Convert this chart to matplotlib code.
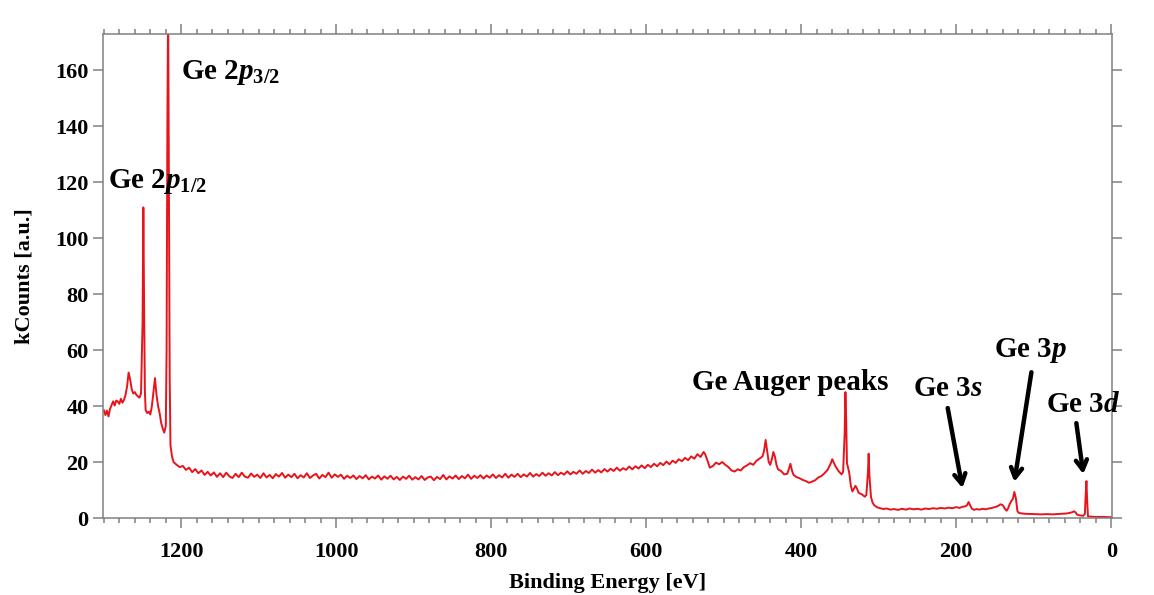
import matplotlib
matplotlib.use("Agg")
import matplotlib.pyplot as plt
from matplotlib.ticker import MultipleLocator

# XPS survey spectrum of Ge
binding_energy = [
    1300, 1298, 1296, 1294, 1292, 1290, 1288, 1286, 1284, 1282, 1280, 1278, 1276, 1274,
    1272, 1270, 1268, 1266, 1264, 1262, 1260, 1258, 1256, 1254, 1252, 1250, 1249, 1248,
    1247, 1246, 1244, 1242, 1240, 1238, 1236, 1234, 1232, 1230, 1228, 1226, 1224, 1222,
    1220, 1219, 1218, 1217, 1216, 1215, 1214, 1212, 1210, 1206, 1202, 1198, 1194, 1190,
    1186, 1182, 1178, 1174, 1170, 1166, 1162, 1158, 1154, 1150, 1146, 1142, 1138, 1134,
    1130, 1126, 1122, 1118, 1114, 1110, 1106, 1102, 1098, 1094, 1090, 1086, 1082, 1078,
    1074, 1070, 1066, 1062, 1058, 1054, 1050, 1046, 1042, 1038, 1034, 1030, 1026, 1022,
    1018, 1014, 1010, 1006, 1002, 998, 994, 990, 986, 982, 978, 974, 970, 966,
    962, 958, 954, 950, 946, 942, 938, 934, 930, 926, 922, 918, 914, 910,
    906, 902, 898, 894, 890, 886, 882, 878, 874, 870, 866, 862, 858, 854,
    850, 846, 842, 838, 834, 830, 826, 822, 818, 814, 810, 806, 802, 798,
    794, 790, 786, 782, 778, 774, 770, 766, 762, 758, 754, 750, 746, 742,
    738, 734, 730, 726, 722, 718, 714, 710, 706, 702, 698, 694, 690, 686,
    682, 678, 674, 670, 666, 662, 658, 654, 650, 646, 642, 638, 634, 630,
    626, 622, 618, 614, 610, 606, 602, 598, 594, 590, 586, 582, 578, 574,
    570, 566, 562, 558, 554, 550, 546, 542, 538, 534, 530, 526, 524, 521,
    518, 514, 510, 506, 502, 498, 494, 490, 486, 482, 478, 474, 470, 466,
    462, 458, 454, 450, 448, 446, 444, 442, 440, 438, 436, 434, 432, 430,
    426, 422, 418, 416, 414, 412, 410, 406, 402, 398, 394, 390, 386, 382,
    378, 374, 370, 366, 362, 360, 358, 356, 352, 348, 346, 344, 343, 342,
    341, 340, 338, 336, 334, 332, 330, 328, 326, 322, 318, 316, 314, 313,
    312, 310, 308, 306, 302, 298, 294, 290, 285, 280, 275, 270, 265, 260,
    255, 250, 245, 240, 235, 230, 225, 220, 215, 210, 205, 200, 196, 192,
    188, 186, 184, 182, 180, 177, 174, 170, 166, 162, 158, 154, 150, 146,
    143, 140, 137, 135, 133, 131, 129, 127, 125, 123, 121, 119, 115, 110,
    100, 90, 84, 75, 65, 58, 54, 50, 48, 46, 44, 40, 36, 34,
    33, 32, 31, 30, 26, 20, 10, 3, 0,
]
kcounts = [
    38.5, 36.8, 38.4, 36.3, 39.0, 40.3, 41.7, 40.2, 42.0, 41.6, 40.8, 42.6, 41.2, 42.2,
    44.0, 47.0, 52.0, 49.5, 46.0, 44.5, 45.0, 44.0, 43.5, 43.0, 44.5, 70.0, 111.0, 75.0,
    45.0, 38.5, 37.5, 38.0, 37.0, 40.0, 45.0, 50.0, 44.0, 40.0, 37.5, 34.0, 32.0, 30.5,
    33.0, 60.0, 140.0, 185.0, 120.0, 50.0, 26.0, 22.0, 20.0, 19.0, 18.2, 18.6, 17.2, 18.0,
    16.4, 17.5, 16.0, 17.0, 15.4, 16.5, 15.2, 16.3, 14.7, 16.0, 14.6, 16.2, 14.9, 14.3,
    15.8, 14.6, 16.2, 14.8, 14.4, 15.9, 14.7, 15.5, 14.3, 16.0, 14.5, 15.4, 14.2, 15.7,
    14.8, 16.1, 14.4, 15.5, 14.6, 15.8, 14.2, 15.3, 14.5, 16.0, 14.3, 15.2, 15.8, 14.1,
    15.4, 14.6, 16.2, 14.4, 15.6, 14.7, 15.5, 14.0, 15.1, 14.3, 15.2, 13.9, 15.0, 14.2,
    15.3, 13.8, 14.8, 14.1, 15.2, 13.7, 14.9, 14.0, 15.1, 13.8, 14.7, 13.6, 14.8, 14.0,
    15.1, 13.7, 14.6, 13.8, 15.0, 13.6, 14.5, 14.8, 13.5, 14.7, 13.9, 15.4, 13.8, 14.9,
    14.1, 15.2, 13.9, 15.0, 14.2, 15.5, 14.0, 15.1, 14.3, 15.3, 14.1, 15.2, 14.4, 15.6,
    14.3, 15.3, 14.5, 15.8, 14.4, 15.5, 14.7, 15.8, 14.6, 15.6, 14.8, 16.1, 14.8, 15.7,
    15.0, 16.2, 15.1, 16.0, 15.2, 16.4, 15.3, 16.2, 15.5, 16.7, 15.6, 16.5, 15.8, 17.0,
    15.8, 16.8, 16.1, 17.3, 16.2, 17.1, 16.3, 17.5, 16.6, 17.6, 16.8, 18.0, 16.9, 17.8,
    17.2, 18.4, 17.4, 18.5, 17.7, 18.8, 17.8, 19.0, 18.2, 19.4, 18.5, 19.7, 18.9, 20.2,
    19.2, 20.5, 19.7, 21.0, 20.3, 21.5, 20.7, 22.0, 21.2, 22.8, 21.8, 23.6, 22.8, 20.5,
    18.0, 18.6, 19.8, 19.2, 20.0, 19.0, 18.2, 17.0, 16.6, 17.4, 17.0, 18.2, 18.8, 19.6,
    19.0, 20.4, 21.2, 22.0, 24.0, 27.9, 24.0, 20.0, 19.0, 21.0, 23.6, 22.0, 19.0, 17.4,
    16.8, 15.6, 15.8, 17.5, 19.4, 17.0, 15.4, 14.6, 14.2, 13.6, 13.2, 12.6, 13.0, 13.5,
    14.5, 15.0, 16.0, 17.2, 19.5, 21.0, 19.8, 18.6, 16.8, 15.6, 16.5, 30.0, 45.0, 35.0,
    19.5, 18.5, 16.0, 11.5, 9.5, 10.5, 11.5, 10.5, 9.0, 8.5, 7.6, 8.2, 16.0, 23.0,
    15.0, 7.5, 5.5, 4.6, 3.8, 3.5, 3.2, 3.4, 3.0, 3.2, 2.9, 3.3, 3.0, 3.4,
    3.1, 3.3, 3.0, 3.4, 3.2, 3.5, 3.3, 3.6, 3.4, 3.7, 3.5, 3.9, 3.6, 4.0,
    4.2, 4.6, 5.7, 4.5, 3.4, 2.9, 3.2, 3.0, 3.3, 3.1, 3.4, 3.6, 3.9, 4.3,
    4.9, 4.6, 3.2, 2.6, 3.5, 5.0, 6.0, 6.8, 9.3, 7.0, 2.4, 1.8, 1.6, 1.5,
    1.4, 1.3, 1.4, 1.3, 1.5, 1.6, 1.8, 2.1, 2.4, 2.0, 1.2, 0.9, 0.8, 1.5,
    8.0, 13.2, 6.0, 0.6, 0.5, 0.4, 0.4, 0.3, 0.3,
]

# peak labels: (text, x, y) and arrows: (tail, head)
labels = [
    (r"Ge 2$p_{3/2}$", 1200, 157),
    (r"Ge 2$p_{1/2}$", 1294, 118),
    ("Ge Auger peaks", 541, 45.7),
    (r"Ge 3$s$", 256, 43.6),
    (r"Ge 3$p$", 151, 57.5),
    (r"Ge 3$d$", 84, 37.9),
]
arrows = [
    ((211, 39.3), (192, 10.7)),
    ((103, 52.1), (125, 12.9)),
    ((45, 33.9), (36, 15.7)),
]

plt.rcParams["font.family"] = ["Liberation Serif", "DejaVu Serif"]
plt.rcParams["font.weight"] = "bold"
plt.rcParams["mathtext.fontset"] = "custom"
plt.rcParams["mathtext.rm"] = "Liberation Serif:bold"
plt.rcParams["mathtext.it"] = "Liberation Serif:italic:bold"
plt.rcParams["mathtext.bf"] = "Liberation Serif:bold"

fig = plt.figure(figsize=(11.54, 5.95), dpi=100)
ax = fig.add_axes([0.0893, 0.1294, 0.8743, 0.8135])

ax.plot(binding_energy, kcounts, color="#e8141c", linewidth=1.4)

ax.set_xlim(1301, -1)
ax.set_ylim(0, 173)
ax.xaxis.set_major_locator(MultipleLocator(200))
ax.xaxis.set_minor_locator(MultipleLocator(20))
ax.yaxis.set_major_locator(MultipleLocator(20))

gray = "#808080"
for s in ax.spines.values():
    s.set_color(gray)
    s.set_linewidth(1.1)
ax.tick_params(which="both", direction="out", top=True, right=True,
               color=gray, width=1.1, labelsize=16)
ax.tick_params(which="major", length=7)
ax.tick_params(which="minor", length=3.5)
ax.tick_params(axis="x", which="major", pad=10)
ax.tick_params(axis="y", which="minor", left=False, right=False)

ax.set_xlabel("Binding Energy [eV]", fontsize=16, fontweight="bold", labelpad=8)
ax.set_ylabel("kCounts [a.u.]", fontsize=16, fontweight="bold", labelpad=15)

for txt, x, y in labels:
    ax.text(x, y, txt, fontsize=21, fontweight="bold", ha="left", va="baseline")

for tail, head in arrows:
    ax.annotate("", xy=head, xytext=tail,
                arrowprops=dict(arrowstyle="->,head_length=0.7,head_width=0.4",
                                color="black", lw=3.2, shrinkA=0, shrinkB=0))

fig.savefig("out.png", dpi=100)
